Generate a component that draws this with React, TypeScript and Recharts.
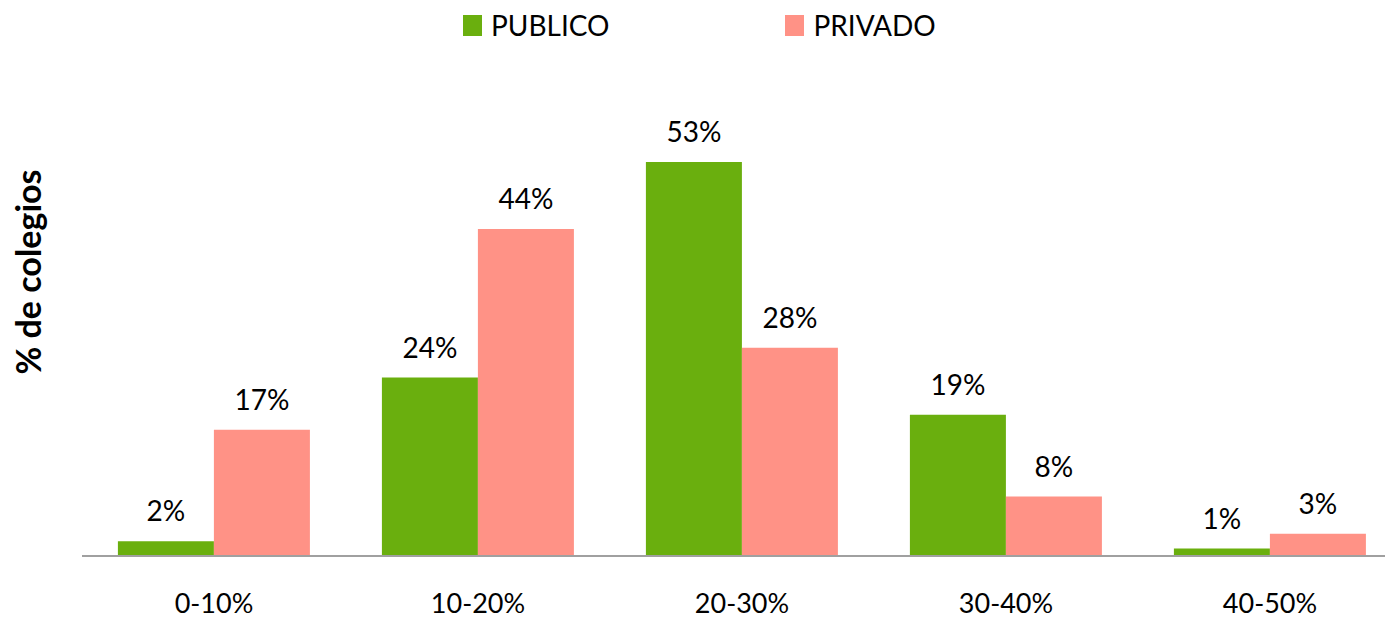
import { BarChart, Bar, XAxis, YAxis, LabelList } from "recharts";

const rangos = ["0-10%", "10-20%", "20-30%", "30-40%", "40-50%"];
const publico = [2, 24, 53, 19, 1];
const privado = [17, 44, 28, 8, 3];

const data = rangos.map((rango, i) => ({ rango, publico: publico[i], privado: privado[i] }));

const font = "Lato, sans-serif";
const GREEN = "#6aaf0e";
const PINK = "#ff9286";

function LegendBox() {
  const item = (color: string, text: string) => (
    <div style={{ display: "flex", alignItems: "center", gap: 9 }}>
      <div style={{ width: 19, height: 21, background: color }} />
      <span style={{ fontSize: 28, color: "#000" }}>{text}</span>
    </div>
  );
  return (
    <div
      style={{
        position: "absolute",
        top: 8,
        left: 463,
        display: "flex",
        gap: 176,
        fontFamily: font,
      }}
    >
      {item(GREEN, "PUBLICO")}
      {item(PINK, "PRIVADO")}
    </div>
  );
}

export default function App() {
  return (
    <div
      style={{
        position: "absolute",
        left: 0,
        top: 0,
        width: 1385,
        height: 620,
        overflow: "hidden",
        background: "#fff",
        fontFamily: font,
      }}
    >
      <LegendBox />
      <div
        style={{
          position: "absolute",
          left: 27,
          top: 272,
          transform: "translate(-50%, -50%) rotate(-90deg)",
          fontSize: 34,
          fontWeight: 700,
          whiteSpace: "nowrap",
        }}
      >
        % de colegios
      </div>
      <BarChart
        width={1402}
        height={620}
        data={data}
        margin={{ top: 110, right: 0, left: 82, bottom: 0 }}
        barCategoryGap="13.6%"
        barGap={0}
      >
        <XAxis
          dataKey="rango"
          height={64}
          axisLine={{ stroke: "#a0a0a0", strokeWidth: 2 }}
          tickLine={false}
          tick={{ fill: "#000", fontSize: 27, fontFamily: font }}
          dy={30}
        />
        <YAxis hide domain={[0, 60]} />
        <Bar dataKey="publico" fill={GREEN} isAnimationActive={false}>
          <LabelList
            dataKey="publico"
            position="top"
            offset={20}
            formatter={(v: any) => `${v}%`}
            style={{ fill: "#000", fontSize: 28, fontFamily: font }}
          />
        </Bar>
        <Bar dataKey="privado" fill={PINK} isAnimationActive={false}>
          <LabelList
            dataKey="privado"
            position="top"
            offset={20}
            formatter={(v: any) => `${v}%`}
            style={{ fill: "#000", fontSize: 28, fontFamily: font }}
          />
        </Bar>
      </BarChart>
    </div>
  );
}
